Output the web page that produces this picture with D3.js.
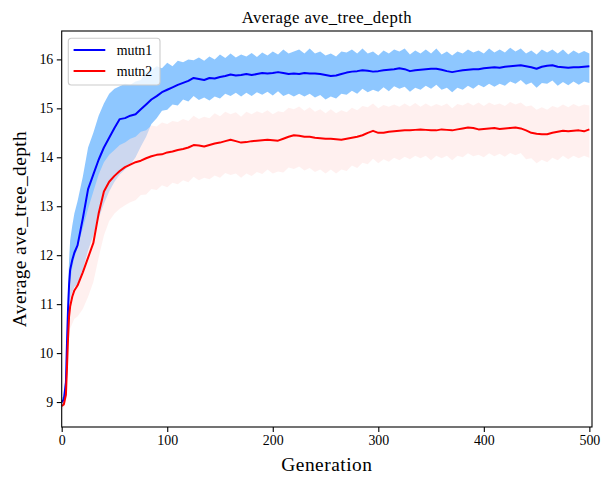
<!DOCTYPE html>
<html>
<head>
<meta charset="utf-8">
<script src="https://cdn.jsdelivr.net/npm/d3@7"></script>
<style>
  body { margin: 0; background: #fff; }
  svg { font-family: "Liberation Serif", "Times New Roman", serif; }
</style>
</head>
<body>
<svg id="chart"></svg>
<script>
// generations sampled from the plot
const gens = [0,2,4,5,6,7,8,10,12,15,
  20,25,30,35,40,45,50,55,60,65,
  70,75,80,85,90,95,100,105,110,115,
  120,125,130,135,140,145,150,155,160,165,
  170,175,180,185,190,195,200,205,210,215,
  220,225,230,235,240,245,250,255,260,265,
  270,275,280,285,290,295,300,305,310,315,
  320,325,330,335,340,345,350,355,360,365,
  370,375,380,385,390,395,400,405,410,415,
  420,425,430,435,440,445,450,455,460,465,
  470,475,480,485,490,495,500];

// mutn1: mean, upper and lower edge of the band
const mutn1Mean = [9.0,9.05,9.4,10.2,10.9,11.4,11.7,11.9,12.05,12.2,
  12.75,13.35,13.65,13.95,14.2,14.4,14.6,14.78,14.8,14.85,
  14.88,14.98,15.08,15.18,15.25,15.33,15.38,15.43,15.48,15.52,
  15.56,15.62,15.6,15.58,15.62,15.61,15.64,15.66,15.69,15.67,
  15.68,15.7,15.68,15.7,15.72,15.71,15.72,15.74,15.72,15.7,
  15.71,15.7,15.72,15.71,15.71,15.7,15.68,15.66,15.67,15.7,
  15.73,15.75,15.76,15.78,15.77,15.75,15.76,15.78,15.79,15.8,
  15.82,15.8,15.76,15.78,15.79,15.8,15.81,15.81,15.79,15.76,
  15.74,15.76,15.78,15.79,15.8,15.8,15.82,15.83,15.84,15.83,
  15.85,15.86,15.87,15.88,15.86,15.84,15.81,15.85,15.87,15.88,
  15.85,15.84,15.83,15.84,15.84,15.85,15.86];
const mutn1Upper = [9.08,9.12,9.6,10.5,11.3,11.9,12.3,12.6,12.85,13.1,
  13.6,14.2,14.5,14.85,15.1,15.3,15.4,15.45,15.5,15.48,
  15.55,15.58,15.75,15.78,15.86,15.82,15.93,15.86,15.97,15.94,
  16.0,15.98,16.04,15.97,16.06,16.0,16.1,16.03,16.12,16.04,
  16.1,16.06,16.13,16.05,16.14,16.08,16.16,16.1,16.2,16.12,
  16.16,16.2,16.12,16.22,16.12,16.16,16.08,16.12,16.06,16.16,
  16.14,16.2,16.12,16.22,16.12,16.16,16.08,16.18,16.12,16.2,
  16.16,16.22,16.1,16.18,16.12,16.2,16.12,16.22,16.1,16.16,
  16.08,16.16,16.12,16.2,16.14,16.18,16.12,16.22,16.14,16.2,
  16.14,16.24,16.16,16.22,16.12,16.18,16.1,16.2,16.14,16.2,
  16.12,16.2,16.1,16.18,16.12,16.17,16.12];
const mutn1Lower = [8.9,8.92,9.15,9.5,10.2,10.8,11.1,11.25,11.35,11.4,
  11.7,12.1,12.4,12.75,13.05,13.3,13.5,13.65,13.75,13.85,
  14.0,14.22,14.42,14.68,14.8,14.95,14.97,15.08,15.06,15.18,
  15.14,15.25,15.17,15.22,15.16,15.24,15.2,15.3,15.25,15.32,
  15.24,15.32,15.25,15.33,15.28,15.34,15.26,15.35,15.25,15.3,
  15.24,15.3,15.24,15.3,15.22,15.27,15.18,15.24,15.2,15.3,
  15.28,15.36,15.3,15.4,15.33,15.38,15.34,15.43,15.35,15.45,
  15.4,15.44,15.34,15.42,15.38,15.46,15.4,15.48,15.38,15.42,
  15.33,15.42,15.38,15.46,15.4,15.48,15.43,15.5,15.44,15.5,
  15.46,15.55,15.5,15.58,15.48,15.53,15.42,15.52,15.5,15.57,
  15.46,15.54,15.47,15.55,15.48,15.55,15.52];

// mutn2: mean, upper and lower edge of the band
const mutn2Mean = [8.92,8.95,9.15,9.7,10.3,10.75,10.95,11.15,11.28,11.38,
  11.65,11.95,12.25,12.85,13.3,13.5,13.62,13.72,13.8,13.85,
  13.9,13.93,13.98,14.02,14.05,14.06,14.1,14.12,14.15,14.17,
  14.2,14.25,14.24,14.22,14.25,14.28,14.3,14.33,14.36,14.33,
  14.3,14.31,14.33,14.34,14.35,14.36,14.35,14.34,14.38,14.42,
  14.45,14.44,14.42,14.42,14.4,14.39,14.38,14.38,14.37,14.36,
  14.38,14.4,14.42,14.45,14.5,14.54,14.5,14.5,14.52,14.53,
  14.54,14.55,14.55,14.56,14.57,14.56,14.55,14.55,14.57,14.56,
  14.55,14.57,14.59,14.61,14.6,14.57,14.58,14.59,14.6,14.58,
  14.59,14.6,14.61,14.59,14.55,14.5,14.48,14.47,14.47,14.5,
  14.52,14.54,14.53,14.54,14.55,14.53,14.57];
const mutn2Upper = [9.0,9.05,9.3,9.95,10.7,11.2,11.45,11.75,11.95,12.15,
  12.55,12.95,13.3,13.65,13.9,14.05,14.15,14.25,14.3,14.38,
  14.42,14.52,14.55,14.65,14.63,14.71,14.68,14.74,14.72,14.78,
  14.74,14.85,14.78,14.83,14.8,14.9,14.84,14.93,14.88,14.92,
  14.83,14.93,14.88,14.94,14.9,14.96,14.88,14.94,14.92,15.01,
  14.98,15.04,14.95,15.02,14.93,14.98,14.9,14.98,14.9,14.96,
  14.92,15.01,14.96,15.05,15.02,15.1,15.0,15.07,15.03,15.08,
  15.03,15.1,15.04,15.11,15.03,15.1,15.04,15.09,15.05,15.1,
  15.0,15.09,15.06,15.12,15.06,15.12,15.05,15.12,15.07,15.1,
  15.05,15.13,15.08,15.12,15.04,15.06,14.97,15.02,14.97,15.05,
  15.01,15.08,15.02,15.09,15.04,15.08,15.06];
const mutn2Lower = [8.85,8.88,9.0,9.4,9.9,10.3,10.5,10.6,10.7,10.75,
  10.9,11.15,11.45,11.95,12.4,12.7,12.85,12.95,13.02,13.08,
  13.12,13.23,13.24,13.35,13.33,13.43,13.39,13.48,13.45,13.53,
  13.49,13.6,13.53,13.58,13.55,13.63,13.58,13.68,13.64,13.67,
  13.58,13.67,13.62,13.7,13.66,13.75,13.67,13.71,13.69,13.79,
  13.76,13.81,13.73,13.78,13.7,13.75,13.67,13.75,13.67,13.75,
  13.72,13.83,13.78,13.89,13.86,13.97,13.88,13.96,13.91,13.99,
  13.94,14.01,13.96,14.03,13.98,14.03,13.94,14.03,13.98,14.03,
  13.94,14.03,14.0,14.08,14.02,14.05,14.0,14.08,14.02,14.07,
  14.01,14.09,14.04,14.09,13.96,13.98,13.88,13.95,13.9,13.99,
  13.94,14.03,13.96,14.03,13.98,14.03,13.99];

const seriesNames = ["mutn1", "mutn2"];
const xTicks = [0, 100, 200, 300, 400, 500];
const yTicks = [9, 10, 11, 12, 13, 14, 15, 16];

const W = 602, H = 479;
const margin = { top: 31, right: 10, bottom: 52, left: 61.7 };
const width = W - margin.left - margin.right;
const height = H - margin.top - margin.bottom;

const svg = d3.select("#chart")
  .attr("width", W)
  .attr("height", H);

const g = svg.append("g")
  .attr("transform", `translate(${margin.left},${margin.top})`);

const x = d3.scaleLinear().domain([0, 502.5]).range([0, width]);
const y = d3.scaleLinear().domain([8.49, 16.58]).range([height, 0]);

g.append("clipPath").attr("id", "plot-clip")
  .append("rect").attr("width", width).attr("height", height);

const plot = g.append("g").attr("clip-path", "url(#plot-clip)");

// build rows for each series
const series = [
  { name: seriesNames[0], mean: mutn1Mean, upper: mutn1Upper, lower: mutn1Lower,
    line: "#0000ff", band: "#1e90ff", bandOpacity: 0.5 },
  { name: seriesNames[1], mean: mutn2Mean, upper: mutn2Upper, lower: mutn2Lower,
    line: "#ff0000", band: "#ffe4e1", bandOpacity: 0.55 }
];
series.forEach(s => {
  s.rows = gens.map((gen, i) => ({ gen, mean: s.mean[i], upper: s.upper[i], lower: s.lower[i] }));
});

const area = d3.area()
  .x(d => x(d.gen))
  .y0(d => y(d.lower))
  .y1(d => y(d.upper));

const line = d3.line()
  .x(d => x(d.gen))
  .y(d => y(d.mean));

// bands first, then the mean lines on top
plot.selectAll(".band")
  .data(series)
  .enter()
  .append("path")
    .classed("band", true)
    .attr("d", d => area(d.rows))
    .attr("fill", d => d.band)
    .attr("fill-opacity", d => d.bandOpacity)
    .attr("stroke", "none");

plot.selectAll(".mean")
  .data(series)
  .enter()
  .append("path")
    .classed("mean", true)
    .attr("d", d => line(d.rows))
    .attr("fill", "none")
    .attr("stroke", d => d.line)
    .attr("stroke-width", 2)
    .attr("stroke-linejoin", "round");

// axes
const xAxis = g.append("g")
  .attr("transform", `translate(0,${height})`)
  .call(d3.axisBottom(x).tickValues(xTicks).tickSize(4.9).tickPadding(3.5));
const yAxis = g.append("g")
  .call(d3.axisLeft(y).tickValues(yTicks).tickSize(4.9).tickPadding(3.5));

[xAxis, yAxis].forEach(a => {
  a.select(".domain").remove();
  a.selectAll(".tick line").attr("stroke", "#000").attr("stroke-width", 1.1);
  a.selectAll(".tick text")
    .attr("fill", "#000")
    .style("font-family", '"Liberation Serif", "Times New Roman", serif')
    .style("font-size", "13.9px");
});

// frame
g.append("rect")
  .attr("width", width)
  .attr("height", height)
  .attr("fill", "none")
  .attr("stroke", "#000")
  .attr("stroke-width", 1.1);

// title and axis labels
svg.append("text")
  .attr("x", margin.left + width / 2)
  .attr("y", 23)
  .attr("text-anchor", "middle")
  .attr("font-size", "16.7px")
  .attr("letter-spacing", "0.4px")
  .text("Average ave_tree_depth");

svg.append("text")
  .attr("x", margin.left + width / 2)
  .attr("y", 471)
  .attr("text-anchor", "middle")
  .attr("font-size", "19.4px")
  .attr("letter-spacing", "0.5px")
  .text("Generation");

svg.append("text")
  .attr("transform", `translate(26,${margin.top + height / 2}) rotate(-90)`)
  .attr("text-anchor", "middle")
  .attr("font-size", "19.4px")
  .attr("letter-spacing", "0.4px")
  .text("Average ave_tree_depth");

// legend
const legend = g.append("g")
  .attr("transform", "translate(6.6,7.3)");

legend.append("rect")
  .attr("width", 91.7)
  .attr("height", 46.7)
  .attr("rx", 3)
  .attr("fill", "#fff")
  .attr("fill-opacity", 0.8)
  .attr("stroke", "#cccccc")
  .attr("stroke-width", 1.1);

const item = legend.selectAll(".item")
  .data(series)
  .enter()
  .append("g")
    .classed("item", true)
    .attr("transform", (d, i) => `translate(0,${11.7 + i * 21})`);

item.append("line")
  .attr("x1", 5.3).attr("x2", 37)
  .attr("stroke", d => d.line)
  .attr("stroke-width", 2);

item.append("text")
  .attr("x", 48.4)
  .attr("y", 5)
  .attr("font-size", "13.9px")
  .text(d => d.name);
</script>
</body>
</html>
